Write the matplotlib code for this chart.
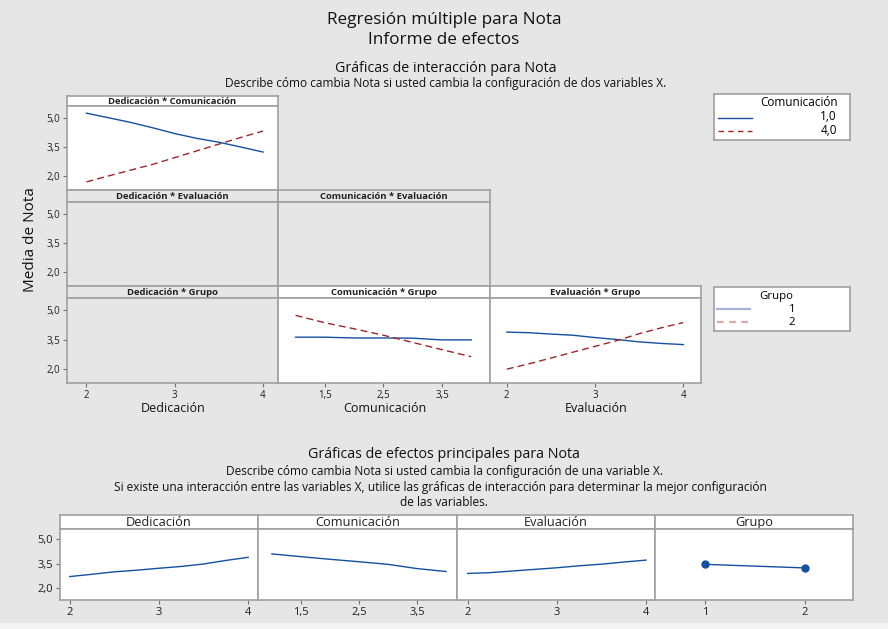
import matplotlib
matplotlib.use('Agg')
import matplotlib.pyplot as plt
from matplotlib.patches import Rectangle

plt.rcParams['font.family'] = ['Open Sans', 'DejaVu Sans']

# ---- data ----
ded_x = [2, 2.25, 2.5, 2.75, 3, 3.25, 3.5, 3.75, 4]
ded_com1 = [5.26, 5.02, 4.78, 4.50, 4.20, 3.95, 3.75, 3.50, 3.24]
ded_com4 = [1.69, 2.00, 2.30, 2.60, 2.95, 3.30, 3.65, 4.00, 4.33]

com_x = [1, 1.5, 2, 2.5, 3, 3.5, 4]
com_grp1 = [3.62, 3.62, 3.58, 3.58, 3.57, 3.48, 3.48]
com_grp2 = [4.74, 4.36, 4.05, 3.72, 3.35, 2.98, 2.62]

eva_x = [2, 2.25, 2.5, 2.75, 3, 3.25, 3.5, 3.75, 4]
eva_grp1 = [3.88, 3.85, 3.78, 3.72, 3.60, 3.50, 3.38, 3.30, 3.24]
eva_grp2 = [1.98, 2.25, 2.55, 2.85, 3.15, 3.45, 3.80, 4.10, 4.37]

main_ded = [2.71, 2.85, 3.00, 3.10, 3.22, 3.33, 3.48, 3.70, 3.89]
main_com = [4.10, 3.93, 3.77, 3.62, 3.46, 3.20, 3.02]
main_eva = [2.90, 2.95, 3.05, 3.15, 3.25, 3.37, 3.47, 3.60, 3.72]
grp_x = [1, 2]
main_grp = [3.46, 3.24]

y_ticks = [2.0, 3.5, 5.0]
y_ticklabels = ['2,0', '3,5', '5,0']
int_ticks = [[2, 3, 4], [1.5, 2.5, 3.5], [2, 3, 4]]
int_ticklabels = [['2', '3', '4'], ['1,5', '2,5', '3,5'], ['2', '3', '4']]
grp_ticks = [1, 2]
grp_ticklabels = ['1', '2']

var_names = ['Dedicación', 'Comunicación', 'Evaluación']
com_levels = ['1,0', '4,0']
grp_levels = ['1', '2']

BG = '#e6e6e6'
EDGE = '#a0a0a0'
BLUE = '#1550a0'
RED = '#9e2628'

W, H = 888, 629
fig = plt.figure(figsize=(W / 100, H / 100), dpi=100, facecolor=BG)


def box(x0, y0, x1, y1):
    return [x0 / W, 1 - y1 / H, (x1 - x0) / W, (y1 - y0) / H]


def ftext(x, y, s, **kw):
    fig.text(x / W, 1 - y / H, s, ha=kw.pop('ha', 'center'), va=kw.pop('va', 'center'), **kw)


def strip(x0, y0, x1, y1, label, fc, size, weight='normal'):
    ax = fig.add_axes(box(x0, y0, x1, y1))
    ax.set_facecolor(fc)
    ax.set_xticks([])
    ax.set_yticks([])
    for sp in ax.spines.values():
        sp.set_color(EDGE)
        sp.set_linewidth(1.2)
    ax.text(0.5, 0.45, label, ha='center', va='center', fontsize=size,
            fontweight=weight, color='#202020', transform=ax.transAxes)
    return ax


def panel(x0, y0, x1, y1, fc, xlim):
    ax = fig.add_axes(box(x0, y0, x1, y1))
    ax.set_facecolor(fc)
    ax.set_xlim(*xlim)
    ax.set_ylim(1.27, 5.63)
    for sp in ax.spines.values():
        sp.set_color(EDGE)
        sp.set_linewidth(1.2)
    ax.tick_params(length=3, width=0.8, color='#707070', labelsize=7, pad=2,
                   labelcolor='#202020')
    ax.set_xticks([])
    ax.set_yticks([])
    return ax


# ---- titles ----
ftext(444, 20, 'Regresión múltiple para Nota', fontsize=12.3, color='#111111')
ftext(444, 40, 'Informe de efectos', fontsize=12.3, color='#111111')
ftext(446, 68, 'Gráficas de interacción para Nota', fontsize=10.3, color='#111111')
ftext(446, 84, 'Describe cómo cambia Nota si usted cambia la configuración de dos variables X.',
      fontsize=8.6, color='#111111')

# ---- interaction grid ----
cols = [(67, 278), (278, 490), (490, 701)]
rows = [(96, 106, 190), (190, 202, 286), (286, 298, 383)]
xlims = [(1.78, 4.17), (0.70, 4.32), (1.81, 4.20)]
cells = [(0, 0, 'Dedicación * Comunicación', 'white'),
         (1, 0, 'Dedicación * Evaluación', BG),
         (1, 1, 'Comunicación * Evaluación', BG),
         (2, 0, 'Dedicación * Grupo', BG),
         (2, 1, 'Comunicación * Grupo', 'white'),
         (2, 2, 'Evaluación * Grupo', 'white')]
axes = {}
for r, c, label, fc in cells:
    x0, x1 = cols[c]
    ht, pt, pb = rows[r]
    strip(x0, ht, x1, pt, label, fc, 6.8, 'bold')
    ax = panel(x0, pt, x1, pb, fc, xlims[c])
    if c == 0:
        ax.set_yticks(y_ticks)
        ax.set_yticklabels(y_ticklabels)
    if r == 2:
        ax.set_xticks(int_ticks[c])
        ax.set_xticklabels(int_ticklabels[c])
    axes[(r, c)] = ax

ax = axes[(0, 0)]
ax.plot(ded_x, ded_com1, color=BLUE, lw=1.0)
ax.plot(ded_x, ded_com4, color=RED, lw=1.0, dashes=(5, 3))
ax = axes[(2, 1)]
ax.plot(com_x, com_grp1, color=BLUE, lw=1.0)
ax.plot(com_x, com_grp2, color=RED, lw=1.0, dashes=(5, 3))
ax = axes[(2, 2)]
ax.plot(eva_x, eva_grp1, color=BLUE, lw=1.0)
ax.plot(eva_x, eva_grp2, color=RED, lw=1.0, dashes=(5, 3))

for (x0, x1), name in zip(cols, var_names):
    ftext((x0 + x1) / 2 + 1, 408, name, fontsize=9, color='#111111')
ftext(31, 240, 'Media de Nota', fontsize=11, rotation=90, color='#111111')

# ---- legends ----
lg = fig.add_axes(box(714, 94, 850, 140))
lg.set_xlim(0, 136)
lg.set_ylim(46, 0)
lg.set_xticks([])
lg.set_yticks([])
for sp in lg.spines.values():
    sp.set_color(EDGE)
    sp.set_linewidth(1.2)
lg.text(124, 9, 'Comunicación', ha='right', va='center', fontsize=8.5)
lg.plot([4, 38], [24, 24], color=BLUE, lw=1.0)
lg.plot([4, 38], [37, 37], color=RED, lw=1.0, dashes=(4, 3))
lg.text(123, 23, com_levels[0], ha='right', va='center', fontsize=8.5)
lg.text(123, 36, com_levels[1], ha='right', va='center', fontsize=8.5)

lg = fig.add_axes(box(714, 287, 850, 331))
lg.set_xlim(0, 136)
lg.set_ylim(44, 0)
lg.set_xticks([])
lg.set_yticks([])
for sp in lg.spines.values():
    sp.set_color(EDGE)
    sp.set_linewidth(1.2)
lg.text(62, 9, 'Grupo', ha='center', va='center', fontsize=8.2)
lg.plot([3, 36], [22, 22], color='#a4b4d8', lw=1.6)
lg.plot([3, 36], [35, 35], color='#d6aaaa', lw=1.6, dashes=(3, 2.5))
lg.text(78, 22.5, grp_levels[0], ha='center', va='center', fontsize=8.2)
lg.text(78, 35.5, grp_levels[1], ha='center', va='center', fontsize=8.2)

# ---- main effects ----
ftext(444, 455, 'Gráficas de efectos principales para Nota', fontsize=10.3, color='#111111')
ftext(444, 471, 'Describe cómo cambia Nota si usted cambia la configuración de una variable X.',
      fontsize=8.6, color='#111111')
ftext(440, 487, 'Si existe una interacción entre las variables X, utilice las gráficas de interacción para determinar la mejor configuración',
      fontsize=8.6, color='#111111')
ftext(444, 503, 'de las variables.', fontsize=8.6, color='#111111')

mcols = [(60, 258), (258, 457), (457, 655), (655, 853)]
mxlims = [(1.89, 4.11), (0.76, 4.19), (1.88, 4.10), (0.50, 2.48)]
mnames = var_names + ['Grupo']
mx = [ded_x, com_x, eva_x, grp_x]
my = [main_ded, main_com, main_eva, main_grp]
mticks = int_ticks + [grp_ticks]
mticklabels = int_ticklabels + [grp_ticklabels]
for i, (x0, x1) in enumerate(mcols):
    strip(x0, 515, x1, 529, mnames[i], 'white', 9.2)
    ax = panel(x0, 529, x1, 600, 'white', mxlims[i])
    ax.set_xticks(mticks[i])
    ax.set_xticklabels(mticklabels[i], fontsize=8)
    if i == 0:
        ax.set_yticks(y_ticks)
        ax.set_yticklabels(y_ticklabels, fontsize=8)
    if i == 3:
        ax.plot(mx[i], my[i], color=BLUE, lw=1.0, marker='o', markersize=5)
    else:
        ax.plot(mx[i], my[i], color=BLUE, lw=1.0)

# bottom edge of the window
fig.patches.append(Rectangle((0, 0), 1, 6 / H, transform=fig.transFigure,
                             facecolor='#f4f4f4', edgecolor='none'))

fig.savefig('out.png', dpi=100, facecolor=BG)
